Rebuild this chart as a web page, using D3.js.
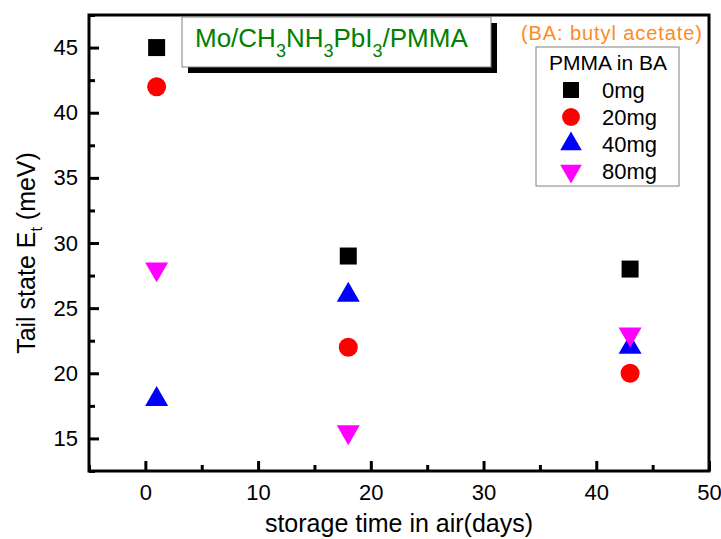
<!DOCTYPE html>
<html>
<head>
<meta charset="utf-8">
<script src="https://cdn.jsdelivr.net/npm/d3@7"></script>
<style>
  html, body { margin: 0; padding: 0; background: #fff; }
  svg { display: block; }
  text { font-family: "Liberation Sans", Arial, sans-serif; }
</style>
</head>
<body>
<svg id="chart" width="721" height="539"></svg>
<script>
// ---- data ----
const days = [1, 18, 43];
const seriesNames = ["0mg", "20mg", "40mg", "80mg"];
const values0mg = [45, 29, 28];
const values20mg = [42, 22, 20];
const values40mg = [18, 26, 22];
const values80mg = [28, 15.5, 23];
const xTickValues = [0, 10, 20, 30, 40, 50];
const xMinorTicks = [-5, 5, 15, 25, 35, 45];
const yTickValues = [15, 20, 25, 30, 35, 40, 45];
const yMinorTicks = [12.5, 17.5, 22.5, 27.5, 32.5, 37.5, 42.5, 47.5];

const seriesValues = [values0mg, values20mg, values40mg, values80mg];
const colors = ["#000000", "#ff0000", "#0000ff", "#ff00ff"];
const shapes = ["square", "circle", "up", "down"];

// ---- layout ----
const svg = d3.select("#chart");
const L = 89, R = 709, T = 15, B = 471;
const x = d3.scaleLinear().domain([-5, 50]).range([L, R]);
const y = d3.scaleLinear().domain([12.5, 47.5]).range([B, T]);
const font = '"Liberation Sans", Arial, sans-serif';

function symbolPath(shape, scale) {
  let type, size;
  if (shape === "square") { type = d3.symbolSquare; size = 289 * scale; }
  else if (shape === "circle") { type = d3.symbolCircle; size = 284 * scale; }
  else { type = d3.symbolTriangle; size = 229 * scale; }
  return d3.symbol().type(type).size(size)();
}

// axes
const xAxis = svg.append("g").attr("transform", `translate(0,${B})`)
  .call(d3.axisBottom(x).tickValues(xTickValues).tickSize(-10).tickPadding(13).tickFormat(d3.format("d")));
const xMinor = svg.append("g").attr("transform", `translate(0,${B})`)
  .call(d3.axisBottom(x).tickValues(xMinorTicks).tickSize(-6).tickFormat(""));
const yAxis = svg.append("g").attr("transform", `translate(${L},0)`)
  .call(d3.axisLeft(y).tickValues(yTickValues).tickSize(-10).tickPadding(11).tickFormat(d3.format("d")));
const yMinor = svg.append("g").attr("transform", `translate(${L},0)`)
  .call(d3.axisLeft(y).tickValues(yMinorTicks).tickSize(-6).tickFormat(""));

[xAxis, xMinor, yAxis, yMinor].forEach(g => {
  g.select(".domain").remove();
  g.selectAll(".tick line").attr("stroke", "#000").attr("stroke-width", 3);
  g.selectAll(".tick text").attr("fill", "#000").style("font-family", font).style("font-size", "22px");
});

// frame
svg.append("rect").attr("x", L).attr("y", T).attr("width", R - L).attr("height", B - T)
  .attr("fill", "none").attr("stroke", "#000").attr("stroke-width", 3);

// axis titles
svg.append("text").attr("x", (L + R) / 2).attr("y", 532).attr("text-anchor", "middle")
  .style("font-size", "25px").attr("fill", "#000").text("storage time in air(days)");

const yl = svg.append("text").attr("transform", "translate(35,253) rotate(-90)")
  .attr("text-anchor", "middle").style("font-size", "25px").attr("fill", "#000");
yl.append("tspan").text("Tail state E");
yl.append("tspan").attr("dy", 7).style("font-size", "16px").text("t");
yl.append("tspan").attr("dy", -7).text(" (meV)");

// data points
seriesValues.forEach((vals, si) => {
  svg.append("g").selectAll("path").data(days.map((d, i) => [d, vals[i]])).join("path")
    .attr("d", symbolPath(shapes[si], 1))
    .attr("transform", d => `translate(${x(d[0])},${y(d[1])})` + (shapes[si] === "down" ? " rotate(180)" : ""))
    .attr("fill", colors[si]);
});

// title box
svg.append("rect").attr("x", 188).attr("y", 23).attr("width", 309).attr("height", 50).attr("fill", "#000");
svg.append("rect").attr("x", 182).attr("y", 17).attr("width", 309).attr("height", 50)
  .attr("fill", "#fff").attr("stroke", "#808080").attr("stroke-width", 1);
const tt = svg.append("text").attr("x", 195).attr("y", 47).style("font-size", "26px").attr("fill", "#008000");
const titleParts = [["Mo/CH", false], ["3", true], ["NH", false], ["3", true], ["PbI", false], ["3", true], ["/PMMA", false]];
let shifted = false;
titleParts.forEach(([txt, sub]) => {
  const ts = tt.append("tspan").text(txt);
  if (sub) { ts.attr("dy", 10).style("font-size", "18px"); shifted = true; }
  else if (shifted) { ts.attr("dy", -10); shifted = false; }
});

// note
svg.append("text").attr("x", 521).attr("y", 40)
  .attr("textLength", 181).attr("lengthAdjust", "spacing")
  .style("font-size", "20px").attr("fill", "#ff8a1e").text("(BA: butyl acetate)");

// legend
svg.append("rect").attr("x", 536).attr("y", 47).attr("width", 143).attr("height", 139)
  .attr("fill", "#fff").attr("stroke", "#808080").attr("stroke-width", 1);
svg.append("text").attr("x", 608).attr("y", 70).attr("text-anchor", "middle")
  .style("font-size", "21px").attr("fill", "#000").text("PMMA in BA");
seriesNames.forEach((name, i) => {
  const cy = 90 + i * 27;
  svg.append("path").attr("d", symbolPath(shapes[i], 0.88))
    .attr("transform", `translate(571,${cy})` + (shapes[i] === "down" ? " rotate(180)" : ""))
    .attr("fill", colors[i]);
  svg.append("text").attr("x", 602).attr("y", cy + 7.5).style("font-size", "22px")
    .attr("fill", "#000").text(name);
});
</script>
</body>
</html>
